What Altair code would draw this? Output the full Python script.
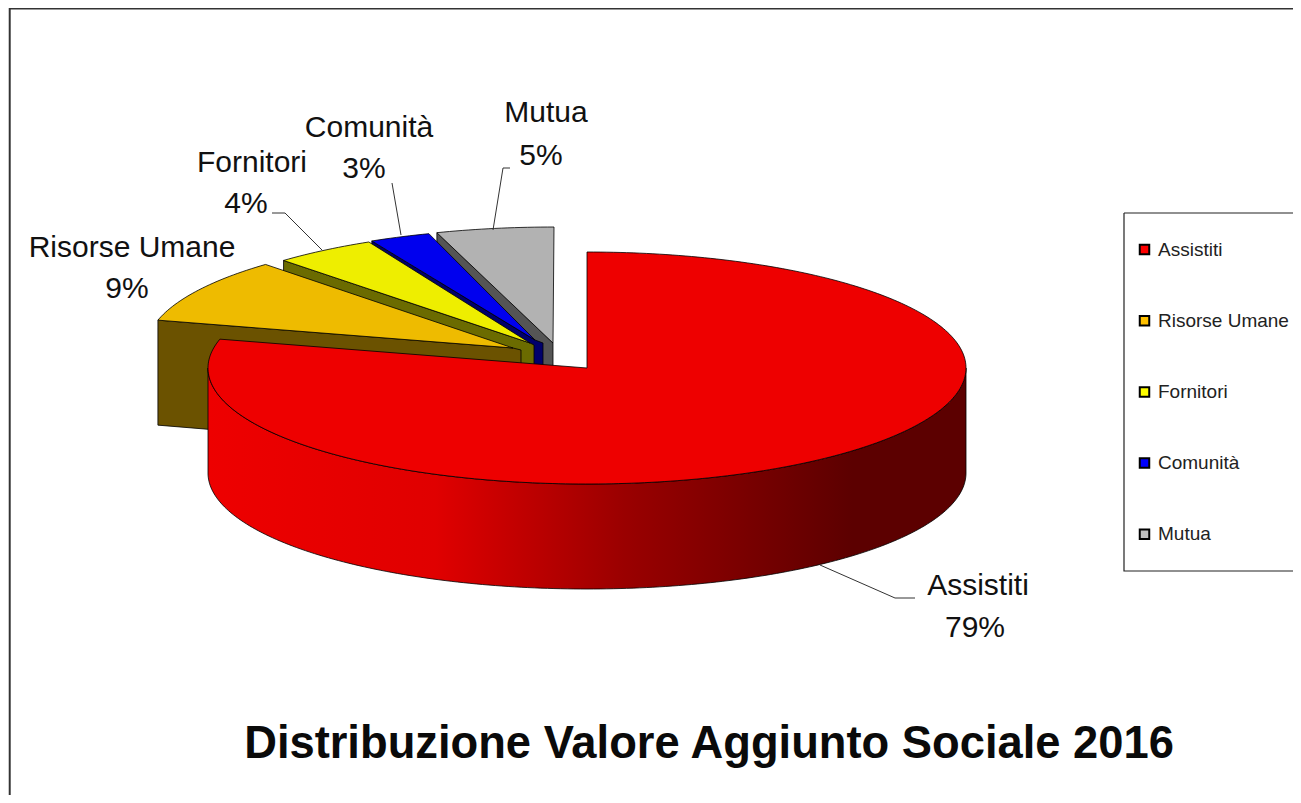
import math
import altair as alt
import pandas as pd

# ---- data ----
names = ["Assistiti", "Risorse Umane", "Fornitori", "Comunità", "Mutua"]
shares = [79.0, 9.0, 4.4, 2.6, 5.0]
percent_labels = ["79%", "9%", "4%", "3%", "5%"]
legend_colors = ["#ff0000", "#ffc000", "#ffff00", "#0000ff", "#c0c0c0"]
top_colors = ["#ee0000", "#eebb00", "#eeee00", "#0000ee", "#b2b2b2"]
face_colors = ["#5c0000", "#6b5200", "#6b6b00", "#00006b", "#555555"]
title_text = "Distribuzione Valore Aggiunto Sociale 2016"

# ---- pseudo-3D projection of the pie ----
W, H = 1285, 787
RX, RY, DEPTH = 379, 116, 105
arc_centres = [(587, 368), (525, 349), (543, 345), (546, 344), (554, 343)]
apexes = [(587, 368), (513, 348), (530, 343), (535, 340), (553, 343)]
face_ends = [(587, 368), (521, 350), (534, 345), (543, 343), (553, 343)]

X = alt.X("x:Q", scale=alt.Scale(domain=[8, 8 + W], nice=False, zero=False), axis=None)
Y = alt.Y("y:Q", scale=alt.Scale(domain=[8 + H, 8], nice=False, zero=False), axis=None)


def arc(c, a0, a1):
    n = max(2, int(abs(a1 - a0)))
    out = []
    for i in range(n + 1):
        a = math.radians(a0 + (a1 - a0) * i / n)
        out.append((c[0] + RX * math.sin(a), c[1] - RY * math.cos(a)))
    return out


def poly(points, fill, stroke="#000000", sw=0.8):
    pts = list(points) + [points[0]]
    df = pd.DataFrame({"x": [p[0] for p in pts], "y": [p[1] for p in pts], "i": range(len(pts))})
    return alt.Chart(df).mark_line(fill=fill, stroke=stroke, strokeWidth=sw).encode(
        x=X, y=Y, order="i:Q"
    )


cum = [0]
for s in shares:
    cum.append(cum[-1] + s)
angles = [c * 3.6 for c in cum]

layers = []

# page frame and legend box
layers.append(poly([(8, 8), (9, 8), (9, 8 + H), (8, 8 + H)], "#d8d8d8", "#d8d8d8", 0.5))
layers.append(poly([(9.5, 8.8), (8 + W + 5, 8.8)], "#333333", "#333333", 1.6))
layers.append(poly([(9.8, 8), (9.8, 8 + H)], "#333333", "#333333", 1.8))
layers.append(poly([(1124, 213), (1310, 213), (1310, 571), (1124, 571)], "#ffffff", "#222222", 1.2))

# exploded back slices, far to near
for k in [4, 3, 2, 1]:
    c = arc_centres[k]
    a0, a1 = angles[k], angles[k + 1]
    top = arc(c, a0, a1)
    s = top[0]
    ax, ay = apexes[k]
    ex, ey = face_ends[k]
    layers.append(
        poly([s, (ax, ay), (ex, ey), (ex, ey + DEPTH), (s[0], s[1] + DEPTH)], face_colors[k])
    )
    layers.append(poly(top + [(ax, ay)], top_colors[k]))

# front slice: rim with a gradient, then the top
c = arc_centres[0]
rim_top = arc(c, 90, 270)
rim_bottom = [(x, y + DEPTH) for x, y in rim_top][::-1]
rim_fill = alt.LinearGradient(
    gradient="linear",
    x1=0, y1=0, x2=1, y2=0,
    stops=[
        alt.GradientStop(offset=0, color="#ee0000"),
        alt.GradientStop(offset=0.3, color="#e00000"),
        alt.GradientStop(offset=0.55, color="#9a0000"),
        alt.GradientStop(offset=0.85, color="#5c0000"),
        alt.GradientStop(offset=1, color="#5c0000"),
    ],
)
layers.append(poly(rim_top + rim_bottom, rim_fill))
layers.append(poly(arc(c, angles[0], angles[1]) + [apexes[0]], top_colors[0]))

# leader lines
for pts in [
    [(820, 565), (895, 598), (915, 598)],
    [(272, 213), (285, 213), (322, 250)],
    [(392, 183), (401, 235)],
    [(510, 168), (503, 168), (493, 230)],
]:
    df = pd.DataFrame({"x": [p[0] for p in pts], "y": [p[1] for p in pts], "i": range(len(pts))})
    layers.append(
        alt.Chart(df).mark_line(stroke="#333333", strokeWidth=1).encode(x=X, y=Y, order="i:Q")
    )

# data labels
label_x = [978, 132, 252, 369, 546]
label_y = [586, 248, 163, 128, 113]
pct_x = [975, 127, 246, 364, 541]
pct_y = [628, 289, 204, 169, 156]
labels_df = pd.DataFrame(
    {"t": names + percent_labels, "x": label_x + pct_x, "y": label_y + pct_y}
)
layers.append(
    alt.Chart(labels_df)
    .mark_text(font="Liberation Sans", fontSize=30, color="#111111", align="center", baseline="middle")
    .encode(x=X, y=Y, text="t:N")
)

# title
title_df = pd.DataFrame({"t": [title_text], "x": [709], "y": [744]})
layers.append(
    alt.Chart(title_df)
    .mark_text(font="Liberation Sans", fontSize=45.3, fontWeight="bold", color="#0a0a0a",
               align="center", baseline="middle")
    .encode(x=X, y=Y, text="t:N")
)

# legend carrier
legend_df = pd.DataFrame({"name": names, "share": shares})
layers.append(
    alt.Chart(legend_df)
    .mark_square(size=0)
    .encode(
        color=alt.Color(
            "name:N",
            scale=alt.Scale(domain=names, range=legend_colors),
            sort=names,
            legend=alt.Legend(
                title=None,
                orient="none",
                legendX=1127,
                legendY=232,
                padding=0,
                symbolType="square",
                symbolSize=90,
                symbolStrokeColor="#000000",
                symbolStrokeWidth=2,
                symbolOpacity=1,
                labelFont="Liberation Sans",
                labelFontSize=19,
                labelColor="#222222",
                labelLimit=300,
                rowPadding=51.2,
                labelOffset=4,
            ),
        )
    )
)

chart = (
    alt.layer(*layers)
    .properties(width=W, height=H, padding=0, autosize=alt.AutoSizeParams(type="none"), background="#ffffff")
    .configure_view(stroke=None)
)

chart.save("out.html", embed_options={"renderer": "svg", "actions": False})
